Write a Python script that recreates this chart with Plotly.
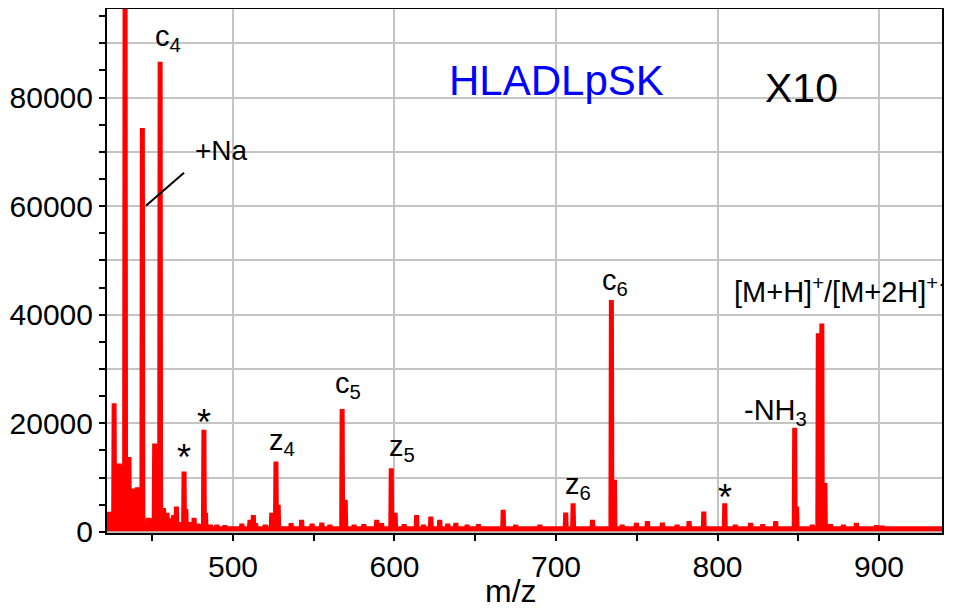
import plotly.graph_objects as go

# ---- data ----
peak_mz = [422.5, 423.5, 424.8, 426.4, 428.0, 429.5, 430.5, 431.8, 433.2, 435.6,
           437.7, 439.0, 440.8, 442.5, 443.9, 445.5, 447.5, 449.0, 451.5, 452.3,
           454.9, 457.0, 459.2, 461.0, 463.3, 465.0, 467.0, 469.7, 470.8, 473.0,
           475.9, 478.0, 480.0, 482.0, 483.0, 486.0, 490.0, 495.0, 505.5, 510.5,
           512.6, 514.0, 520.0, 524.0, 526.6, 528.0, 536.0, 542.5, 549.0, 555.0,
           560.0, 567.6, 569.5, 575.0, 581.0, 589.0, 592.0, 598.0, 600.4, 606.0,
           613.7, 618.0, 622.5, 628.0, 633.0, 638.0, 645.0, 652.0, 667.3, 675.0,
           690.0, 706.0, 710.6, 722.6, 734.3, 736.2, 741.0, 749.8, 756.6, 765.9,
           775.0, 782.4, 791.5, 804.5, 811.0, 820.5, 828.0, 836.0, 847.8, 849.0,
           858.7, 862.4, 864.6, 866.5, 870.0, 878.0, 886.0, 898.5, 902.0]
peak_int = [2500, 3700, 3000, 23700, 4000, 12600, 12400, 3500, 105000, 13800,
            8000, 7800, 8200, 3000, 74400, 2000, 2600, 2500, 16300, 15000,
            86600, 4400, 3500, 2500, 3100, 4660, 1800, 11100, 4200, 1800,
            2600, 1500, 1400, 18800, 3500, 1300, 1300, 1200, 1500, 2200,
            3100, 1600, 1300, 3500, 12950, 5000, 1600, 2200, 1500, 1700,
            1300, 22650, 5900, 1300, 1400, 2200, 1600, 11730, 3500, 1400,
            3100, 1300, 2800, 2200, 1500, 1650, 1300, 1400, 4050, 1300,
            1300, 3560, 5290, 2200, 42700, 9600, 1300, 1650, 2000, 1700,
            1300, 2000, 3750, 5290, 1300, 1650, 1400, 2000, 19200, 4660,
            1300, 36600, 38400, 9000, 1400, 1300, 1650, 1200, 1100]
baseline = 600
mz_start, mz_end = 421.0, 940.0

# peak labels: text, x (m/z), y (intensity)
label_text = ["c<sub>4</sub>", "z<sub>4</sub>", "c<sub>5</sub>", "z<sub>5</sub>",
              "c<sub>6</sub>", "z<sub>6</sub>", "-NH<sub>3</sub>"]
label_x = [459.8, 530.3, 571.2, 604.6, 736.5, 713.6, 836.2]
label_y = [91000, 16580, 27080, 15470, 46050, 8470, 22100]

star_x = [469.7, 482.0, 804.5]
star_y = [13700, 20100, 6400]

# ---- build profile ----
hw = 0.3
xs, ys = [mz_start], [baseline]
for m, v in zip(peak_mz, peak_int):
    xs += [m - hw, m, m + hw]
    ys += [baseline, v, baseline]
xs.append(mz_end)
ys.append(baseline)

FONT = "Liberation Sans, Arial, sans-serif"

fig = go.Figure()
fig.add_trace(go.Scatter(x=xs, y=ys, mode="lines",
                         line=dict(color="#ff0000", width=5), showlegend=False,
                         hoverinfo="skip"))

ann = []
for t, x, y in zip(label_text, label_x, label_y):
    ann.append(dict(x=x, y=y, xref="x", yref="y", text=t, showarrow=False,
                    font=dict(size=29, color="black", family=FONT)))
for x, y in zip(star_x, star_y):
    ann.append(dict(x=x, y=y, xref="x", yref="y", text="*", showarrow=False,
                    font=dict(size=36, color="black", family=FONT)))
ann.append(dict(x=808.7, y=44580, xref="x", yref="y", xanchor="left",
                text="[M+H]<sup>+</sup>/[M+2H]<sup>+·</sup>", showarrow=False,
                font=dict(size=29, color="black", family=FONT)))
ann.append(dict(x=493.2, y=70180, xref="x", yref="y", text="+Na", showarrow=False,
                font=dict(size=28, color="black", family=FONT)))
ann.append(dict(x=700.6, y=83070, xref="x", yref="y", text="HLADLpSK", showarrow=False,
                font=dict(size=42, color="#0000ff", family=FONT)))
ann.append(dict(x=852.3, y=81790, xref="x", yref="y", text="X10", showarrow=False,
                font=dict(size=41, color="black", family=FONT)))
# x-axis title
ann.append(dict(x=0.484, y=-0.111, xref="paper", yref="paper", text="m/z",
                showarrow=False, xanchor="center", yanchor="middle",
                font=dict(size=32, color="black", family=FONT)))

fig.add_shape(type="line", xref="x", yref="y", x0=446.1, y0=60050, x1=469.7, y1=66130,
              line=dict(color="black", width=2))

ytick_vals = [0, 10000, 20000, 30000, 40000, 50000, 60000, 70000, 80000, 90000]
ytick_text = ["0", "", "20000", "", "40000", "", "60000", "", "80000", ""]

# page body adds an 8px offset; figure sized to fit the 960x611 window
fig.update_layout(
    width=952, height=603,
    margin=dict(l=99, r=18, t=1, b=78),
    paper_bgcolor="white", plot_bgcolor="white",
    font=dict(family=FONT, color="black", size=30),
    annotations=ann,
    xaxis=dict(range=[422, 939], dtick=100, tick0=0, showgrid=True,
               gridcolor="#c4c4c4", gridwidth=2, zeroline=False,
               showline=True, linecolor="black", linewidth=2, mirror=True,
               ticks="outside", ticklen=6, tickwidth=2, tickcolor="black",
               minor=dict(dtick=50, tick0=0, ticks="outside", ticklen=6,
                          tickwidth=2, tickcolor="black", showgrid=False),
               tickfont=dict(size=30), automargin=False),
    yaxis=dict(range=[-200, 96300], tickvals=ytick_vals, ticktext=ytick_text,
               showgrid=True, gridcolor="#c4c4c4", gridwidth=2, zeroline=False,
               showline=True, linecolor="black", linewidth=2, mirror=True,
               ticks="outside", ticklen=6, tickwidth=2, tickcolor="black",
               minor=dict(dtick=5000, tick0=0, ticks="outside", ticklen=6,
                          tickwidth=2, tickcolor="black", showgrid=False),
               tickfont=dict(size=30), automargin=False),
)

fig.write_html("out.html")
